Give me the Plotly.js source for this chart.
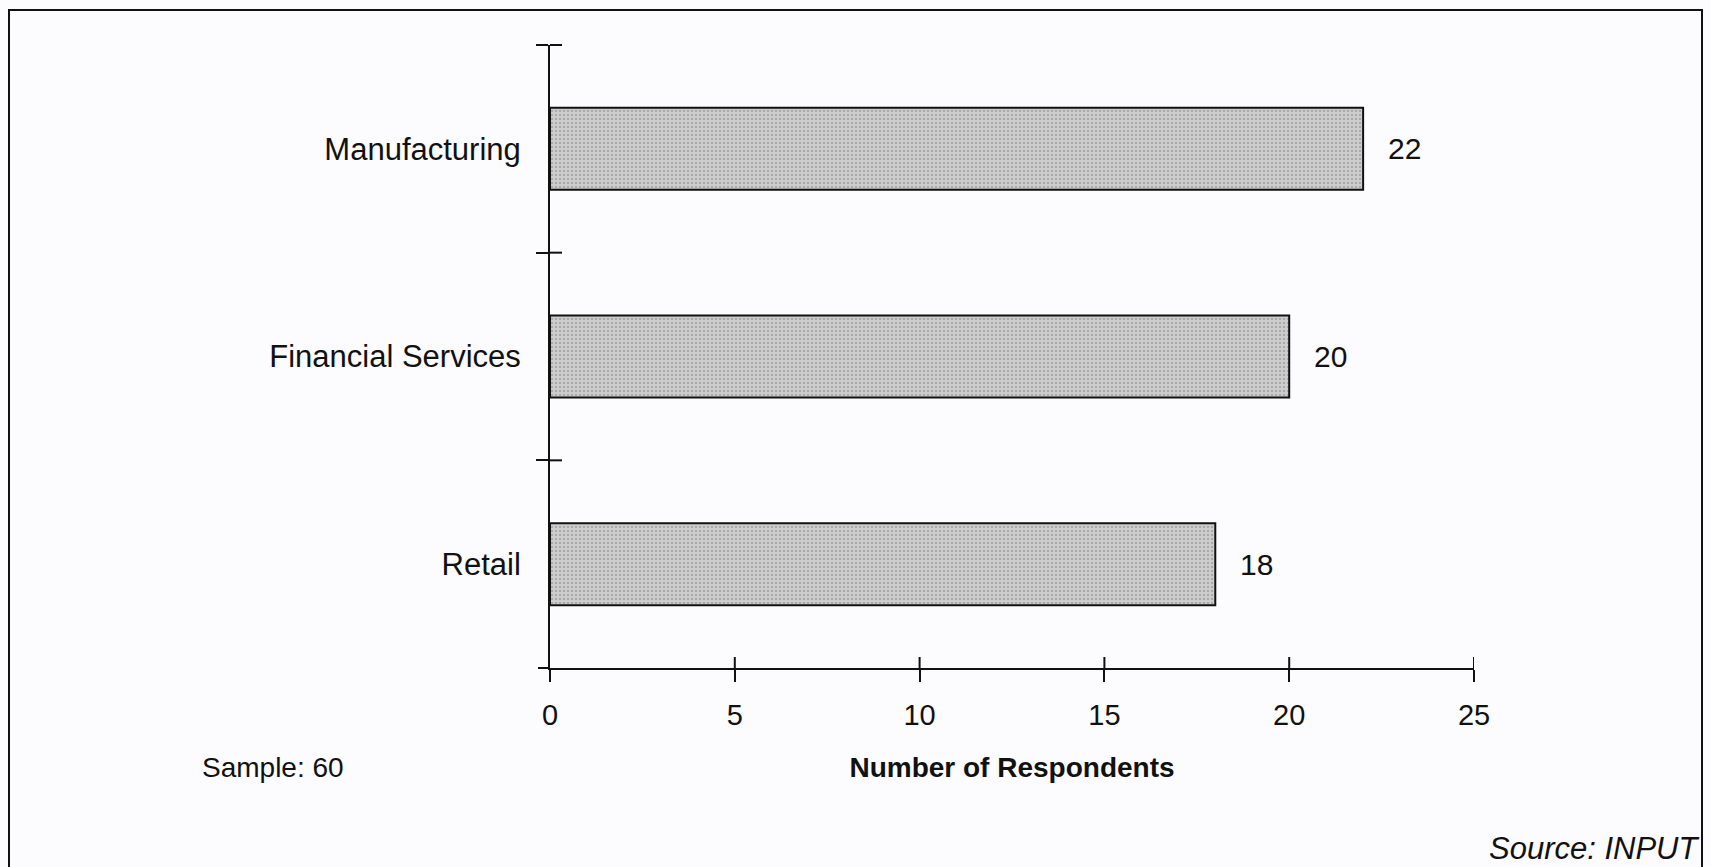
<!DOCTYPE html>
<html>
<head>
<meta charset="utf-8">
<script src="https://cdn.plot.ly/plotly-3.0.1.min.js"></script>
<style>
  html, body { margin: 0; padding: 0; background: #fcfbfd; overflow: hidden; }
  #chart { width: 1711px; height: 867px; position: absolute; left: 0; top: 0; }
  #frame { position: absolute; left: 8px; top: 9px; width: 1691px; height: 900px;
           border: 2px solid #111; pointer-events: none; }
</style>
</head>
<body>
<div id="chart"></div>
<div id="frame"></div>
<script>
const categories = ['Manufacturing', 'Financial Services', 'Retail'];
const respondents = [22, 20, 18];
const xTicks = [0, 5, 10, 15, 20, 25];
const xTitle = 'Number of Respondents';
const sampleNote = 'Sample: 60';
const sourceNote = 'Source: INPUT';

const FONT = 'Liberation Sans, Arial, sans-serif';
const INK = '#111111';

const traces = [
  {
    type: 'bar',
    orientation: 'h',
    x: respondents,
    y: categories,
    marker: {
      color: '#c9c9c9',
      line: { color: INK, width: 2 },
      pattern: { shape: '.', fgcolor: '#a0a0a0', bgcolor: '#cccccc', size: 4, solidity: 0.22 }
    },
    hoverinfo: 'x+y'
  }
];

const annotations = categories.map((c, i) => ({
  x: respondents[i], y: c, xref: 'x', yref: 'y',
  text: String(respondents[i]), showarrow: false,
  xanchor: 'left', yanchor: 'middle', xshift: 23,
  font: { family: FONT, size: 30, color: INK }
}));
annotations.push({
  xref: 'paper', yref: 'paper', x: -0.379, y: -0.159,
  xanchor: 'left', yanchor: 'middle', showarrow: false,
  text: sampleNote, font: { family: FONT, size: 28, color: INK }
});
annotations.push({
  xref: 'paper', yref: 'paper', x: 1.2464, y: -0.29,
  xanchor: 'right', yanchor: 'middle', showarrow: false,
  text: '<i>' + sourceNote + '</i>', font: { family: FONT, size: 31, color: INK }
});

// inner halves of the crossing tick marks (outer halves are the axes' own ticks)
const shapes = [];
xTicks.slice(1).forEach(t => shapes.push({
  type: 'line', xref: 'x', yref: 'paper', ysizemode: 'pixel', yanchor: 0,
  x0: t, x1: t, y0: 0, y1: 11, line: { color: INK, width: 2 }
}));
for (let k = 1; k <= categories.length; k++) {
  shapes.push({
    type: 'line', xref: 'x', yref: 'paper', xsizemode: 'pixel', xanchor: 0,
    x0: 0, x1: 12, y0: k / categories.length, y1: k / categories.length,
    line: { color: INK, width: 2 }
  });
}
// outer stub of the bottom category boundary, left of the origin
shapes.push({
  type: 'line', xref: 'paper', yref: 'paper', xsizemode: 'pixel', xanchor: 0,
  x0: -12, x1: 0, y0: 0, y1: 0, line: { color: INK, width: 2 }
});

const layout = {
  width: 1711, height: 867,
  margin: { l: 550, r: 237, t: 45, b: 199, pad: 0 },
  paper_bgcolor: 'rgba(0,0,0,0)',
  plot_bgcolor: 'rgba(0,0,0,0)',
  showlegend: false,
  bargap: 0.605,
  font: { family: FONT, size: 29, color: INK },
  xaxis: {
    range: [0, 25], tickvals: xTicks, ticktext: xTicks.map(String),
    ticks: 'outside', ticklen: 12, tickwidth: 2, tickcolor: INK,
    showline: true, linecolor: INK, linewidth: 2,
    showgrid: false, zeroline: false, fixedrange: true,
    ticklabelstandoff: 8,
    tickfont: { family: FONT, size: 29, color: INK },
    title: { text: '<b>' + xTitle + '</b>', standoff: 28, font: { family: FONT, size: 28, color: INK } },
    automargin: false
  },
  yaxis: {
    type: 'category', autorange: 'reversed',
    tickson: 'boundaries',
    ticks: 'outside', ticklen: 12, tickwidth: 2, tickcolor: INK,
    showline: true, linecolor: INK, linewidth: 2,
    showgrid: false, zeroline: false, fixedrange: true,
    ticklabelstandoff: 21,
    tickfont: { family: FONT, size: 31, color: INK },
    automargin: false
  },
  shapes: shapes,
  annotations: annotations
};

Plotly.newPlot('chart', traces, layout, { displayModeBar: false, staticPlot: true });
</script>
</body>
</html>
